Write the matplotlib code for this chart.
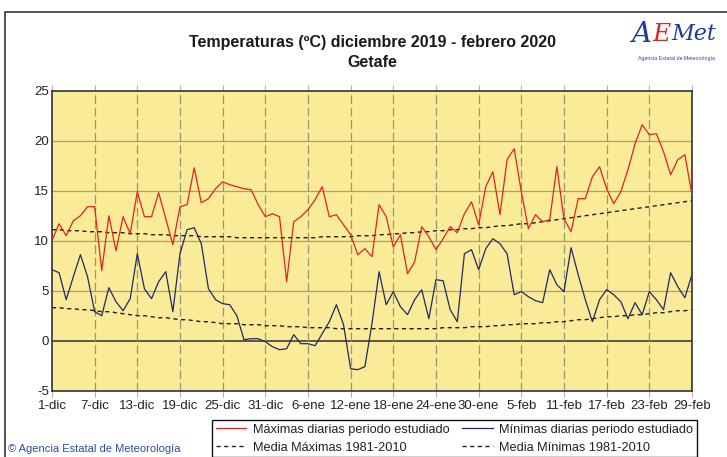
import numpy as np
import matplotlib
matplotlib.use('Agg')
import matplotlib.pyplot as plt
from matplotlib.patches import Rectangle
from matplotlib import font_manager

# tipografia estrecha si esta instalada
names = set(f.name for f in font_manager.fontManager.ttflist)
narrow = 'Liberation Sans Narrow' if 'Liberation Sans Narrow' in names else 'Liberation Sans'
plt.rcParams['font.family'] = [narrow, 'DejaVu Sans']
plt.rcParams['axes.unicode_minus'] = False

# datos diarios, 1-dic-2019 a 29-feb-2020
tmax = [10.0, 11.7, 10.5, 12.0, 12.5, 13.4, 13.4, 7.0, 12.5, 9.0,
        12.4, 10.7, 14.9, 12.4, 12.4, 14.8, 12.2, 9.6, 13.4, 13.6,
        17.3, 13.8, 14.2, 15.2, 15.9, 15.6, 15.4, 15.2, 15.1, 13.6,
        12.4, 12.7, 12.4, 5.9, 11.9, 12.4, 13.1, 14.1, 15.4, 12.4,
        12.6, 11.6, 10.6, 8.6, 9.2, 8.4, 13.6, 12.4, 9.4, 10.6,
        6.7, 7.9, 11.4, 10.4, 9.1, 10.2, 11.4, 10.8, 12.7, 13.9,
        11.6, 15.4, 16.9, 12.6, 18.1, 19.2, 14.9, 11.2, 12.6, 11.9,
        12.1, 17.4, 12.2, 10.9, 14.2, 14.2, 16.4, 17.4, 15.2, 13.7,
        14.9, 17.1, 19.7, 21.6, 20.6, 20.7, 18.9, 16.6, 18.1, 18.6,
        14.6]
tmin = [7.1, 6.8, 4.1, 6.4, 8.6, 6.4, 2.9, 2.5, 5.3, 3.9,
        3.0, 4.2, 8.7, 5.2, 4.2, 5.9, 6.9, 2.9, 8.7, 11.1,
        11.3, 9.7, 5.2, 4.1, 3.7, 3.6, 2.5, 0.1, 0.2, 0.2,
        -0.1, -0.6, -0.9, -0.8, 0.6, -0.3, -0.3, -0.5, 0.7, 1.9,
        3.6, 1.6, -2.8, -2.9, -2.6, 1.7, 6.9, 3.6, 4.9, 3.4,
        2.6, 4.1, 5.1, 2.2, 6.1, 6.0, 3.1, 1.9, 8.7, 9.1,
        7.1, 9.2, 10.2, 9.7, 8.7, 4.6, 4.9, 4.4, 4.0, 3.8,
        7.1, 5.6, 4.9, 9.3, 6.6, 4.1, 1.9, 4.1, 5.1, 4.6,
        3.9, 2.2, 3.8, 2.6, 4.9, 4.1, 3.1, 6.8, 5.4, 4.3,
        6.6]
media_max = [11.1, 11.1, 11.0, 11.0, 11.0, 10.9, 10.9, 10.9, 10.8, 10.8,
             10.8, 10.7, 10.7, 10.7, 10.6, 10.6, 10.6, 10.5, 10.5, 10.5,
             10.5, 10.4, 10.4, 10.4, 10.4, 10.4, 10.3, 10.3, 10.3, 10.3,
             10.3, 10.3, 10.3, 10.3, 10.3, 10.3, 10.3, 10.3, 10.4, 10.4,
             10.4, 10.4, 10.4, 10.5, 10.5, 10.5, 10.6, 10.6, 10.7, 10.7,
             10.8, 10.8, 10.9, 10.9, 11.0, 11.0, 11.1, 11.1, 11.2, 11.2,
             11.3, 11.3, 11.4, 11.5, 11.5, 11.6, 11.7, 11.7, 11.8, 11.9,
             12.0, 12.1, 12.2, 12.3, 12.4, 12.5, 12.6, 12.7, 12.8, 12.9,
             13.0, 13.1, 13.2, 13.3, 13.4, 13.5, 13.6, 13.7, 13.8, 13.9,
             14.0]
media_min = [3.3, 3.3, 3.2, 3.2, 3.1, 3.1, 3.0, 2.9, 2.9, 2.8,
             2.7, 2.6, 2.5, 2.5, 2.4, 2.3, 2.3, 2.2, 2.1, 2.1,
             2.0, 1.9, 1.9, 1.8, 1.7, 1.7, 1.7, 1.6, 1.6, 1.6,
             1.5, 1.5, 1.5, 1.4, 1.4, 1.4, 1.3, 1.3, 1.3, 1.3,
             1.2, 1.2, 1.2, 1.2, 1.2, 1.2, 1.2, 1.2, 1.2, 1.2,
             1.2, 1.2, 1.2, 1.2, 1.2, 1.3, 1.3, 1.3, 1.3, 1.4,
             1.4, 1.4, 1.5, 1.5, 1.6, 1.6, 1.7, 1.7, 1.7, 1.8,
             1.8, 1.9, 1.9, 2.0, 2.1, 2.1, 2.2, 2.3, 2.4, 2.4,
             2.5, 2.5, 2.6, 2.6, 2.7, 2.8, 2.8, 2.9, 3.0, 3.0,
             3.1]
etiquetas = ['1-dic', '7-dic', '13-dic', '19-dic', '25-dic', '31-dic', '6-ene',
             '12-ene', '18-ene', '24-ene', '30-ene', '5-feb', '11-feb',
             '17-feb', '23-feb', '29-feb']

dias = np.arange(len(tmax))
pos = np.arange(0, len(tmax), 6)

fig = plt.figure(figsize=(7.27, 4.57), dpi=100)
ax = fig.add_axes([0.0715, 0.1451, 0.8803, 0.6564])
ax.set_facecolor('#FAEB98')

# rejilla
for y in [5, 10, 15, 20]:
    ax.axhline(y, color='#A8A07C', lw=0.9, zorder=1)
ax.axhline(0, color='#303030', lw=1.1, zorder=1)
for x in pos[1:-1]:
    ax.axvline(x, color='#9A9478', lw=0.9, ls=(0, (7, 3)), zorder=1)

ax.plot(dias, media_max, color='#202020', lw=1.0, ls=(0, (3, 2.5)), zorder=2)
ax.plot(dias, media_min, color='#202020', lw=1.0, ls=(0, (3, 2.5)), zorder=2)
l1, = ax.plot(dias, tmax, color='#E0241E', lw=0.9, zorder=3)
l2, = ax.plot(dias, tmin, color='#1E2A66', lw=0.9, zorder=3)

ax.set_xlim(0, len(tmax) - 1)
ax.set_ylim(-5, 25)
ax.set_yticks([-5, 0, 5, 10, 15, 20, 25])
ax.set_xticks(pos)
ax.set_xticklabels(etiquetas)
ax.tick_params(axis='both', length=0, labelsize=9.5, colors='#222222', pad=3)
ax.tick_params(axis='y', pad=2)
ax.tick_params(top=True, direction='out', length=4, width=0.8, color='#B0B0B0', labeltop=False, axis='x')
for s in ax.spines.values():
    s.set_color('#333333')
    s.set_linewidth(1.2)

# titulo
fig.text(0.512, 0.906, 'Temperaturas (ºC) diciembre 2019 - febrero 2020', ha='center', va='center',
         fontsize=11.5, fontweight='bold', color='#1A1A1A')
fig.text(0.512, 0.864, 'Getafe', ha='center', va='center', fontsize=11.5, fontweight='bold',
         color='#1A1A1A')

# logo
fig.text(0.868, 0.925, 'A', ha='left', va='center', fontsize=20, style='italic', color='#1D3C9A',
         family='DejaVu Serif')
fig.text(0.898, 0.925, 'E', ha='left', va='center', fontsize=18, style='italic', color='#D8282A',
         family='DejaVu Serif')
fig.text(0.923, 0.925, 'Met', ha='left', va='center', fontsize=16, style='italic', color='#1D3C9A',
         family='DejaVu Serif')
fig.text(0.931, 0.872, 'Agencia Estatal de Meteorología', ha='center', va='center', fontsize=3.8,
         color='#2A4A9A')

# leyenda
d1, = ax.plot([], [], color='#202020', lw=1.0, ls=(0, (3, 2.5)))
d2, = ax.plot([], [], color='#202020', lw=1.0, ls=(0, (3, 2.5)))
leg = fig.legend([l1, d1, l2, d2],
                 ['Máximas diarias periodo estudiado', 'Media Máximas 1981-2010',
                  'Mínimas diarias periodo estudiado', 'Media Mínimas 1981-2010'],
                 ncol=2, loc='upper left', bbox_to_anchor=(0.2915, 0.081), fontsize=9.2,
                 frameon=True, fancybox=False, edgecolor='#111111', framealpha=1,
                 handlelength=2.4, handletextpad=0.5, columnspacing=1.0, labelspacing=0.45,
                 borderpad=0.3, borderaxespad=0)
leg.get_frame().set_linewidth(1.0)
for t in leg.get_texts():
    t.set_color('#222222')

fig.text(0.011, 0.0175, '© Agencia Estatal de Meteorología', ha='left', va='center', fontsize=8,
         color='#2C4C9C')

# marco exterior
fig.add_artist(Rectangle((5 / 727, -0.05), 1.2, (457 - 12) / 457 + 0.05, transform=fig.transFigure,
                         fill=False, edgecolor='#333333', lw=1.2, clip_on=False))

fig.savefig('out.png', dpi=100)
